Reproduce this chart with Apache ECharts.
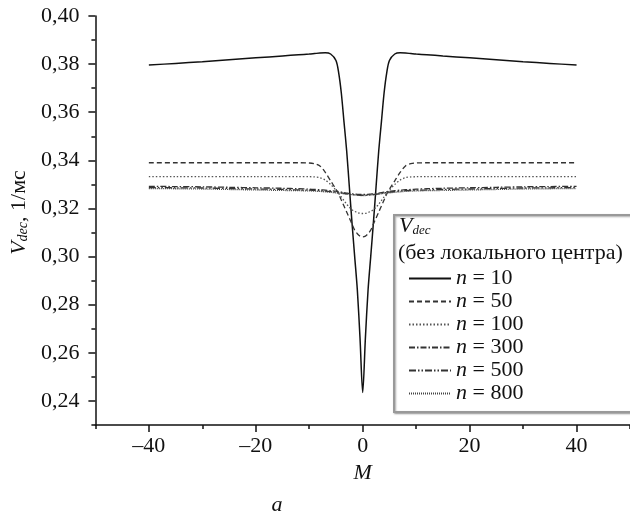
<!DOCTYPE html>
<html><head><meta charset="utf-8">
<script src="https://cdn.jsdelivr.net/npm/echarts@6/dist/echarts.min.js"></script>
<style>html,body{margin:0;padding:0;background:#fff}#c{width:630px;height:526px}</style>
</head><body><div id="c"></div>
<script>
var M = [-40,-35,-30,-25,-20,-15,-12,-10,-9,-8,-7,-6,-5,-4.5,-4,-3.5,-3,-2.5,-2,-1.5,-1,-0.5,0,
         0.5,1,1.5,2,2.5,3,3.5,4,4.5,5,6,7,8,9,10,12,15,20,25,30,35,40];
var n10 = [0.3796,0.3803,0.3810,0.3818,0.3826,0.3834,0.3839,0.3842,0.3844,0.3846,0.3847,0.3842,0.3815,0.3765,0.3680,0.3560,0.3440,0.3290,0.3140,0.3000,0.2860,0.2660,0.2435,
           0.2660,0.2860,0.3000,0.3140,0.3290,0.3440,0.3560,0.3680,0.3765,0.3815,0.3842,0.3847,0.3846,0.3844,0.3842,0.3839,0.3834,0.3826,0.3818,0.3810,0.3803,0.3796];
var n50 = [0.3390,0.3390,0.3390,0.3390,0.3390,0.3390,0.3390,0.3389,0.3386,0.3377,0.3350,0.3315,0.3280,0.3260,0.3235,0.3210,0.3185,0.3160,0.3135,0.3110,0.3095,0.3085,0.3082,
           0.3085,0.3095,0.3110,0.3135,0.3160,0.3185,0.3210,0.3235,0.3260,0.3280,0.3315,0.3350,0.3377,0.3386,0.3389,0.3390,0.3390,0.3390,0.3390,0.3390,0.3390,0.3390];
var n100 = [0.3332,0.3332,0.3332,0.3332,0.3332,0.3332,0.3332,0.3332,0.3331,0.3328,0.3318,0.3300,0.3276,0.3262,0.3248,0.3233,0.3218,0.3205,0.3195,0.3188,0.3183,0.3180,0.3179,
            0.3180,0.3183,0.3188,0.3195,0.3205,0.3218,0.3233,0.3248,0.3262,0.3276,0.3300,0.3318,0.3328,0.3331,0.3332,0.3332,0.3332,0.3332,0.3332,0.3332,0.3332,0.3332];
var n300 = [0.3292,0.3291,0.3290,0.3288,0.3286,0.3284,0.3282,0.3280,0.3279,0.3278,0.3276,0.3274,0.3272,0.3270,0.3268,0.3266,0.3264,0.3262,0.3261,0.3260,0.3259,0.3258,0.3258,
            0.3258,0.3259,0.3260,0.3261,0.3262,0.3264,0.3266,0.3268,0.3270,0.3272,0.3274,0.3276,0.3278,0.3279,0.3280,0.3282,0.3284,0.3286,0.3288,0.3290,0.3291,0.3292];
var n500 = [0.3287,0.3286,0.3285,0.3283,0.3281,0.3279,0.3277,0.3276,0.3275,0.3274,0.3272,0.3270,0.3268,0.3266,0.3265,0.3263,0.3261,0.3259,0.3258,0.3257,0.3256,0.3255,0.3255,
            0.3255,0.3256,0.3257,0.3258,0.3259,0.3261,0.3263,0.3265,0.3266,0.3268,0.3270,0.3272,0.3274,0.3275,0.3276,0.3277,0.3279,0.3281,0.3283,0.3285,0.3286,0.3287];
var n800 = [0.3283,0.3282,0.3281,0.3279,0.3277,0.3275,0.3274,0.3273,0.3272,0.3271,0.3269,0.3267,0.3265,0.3264,0.3263,0.3261,0.3259,0.3258,0.3257,0.3256,0.3255,0.3254,0.3254,
            0.3254,0.3255,0.3256,0.3257,0.3258,0.3259,0.3261,0.3263,0.3264,0.3265,0.3267,0.3269,0.3271,0.3272,0.3273,0.3274,0.3275,0.3277,0.3279,0.3281,0.3282,0.3283];
var seriesNames = ['n = 10','n = 50','n = 100','n = 300','n = 500','n = 800'];
var xMajorTicks = [-40,-20,0,20,40];
var xMinorTicks = [-50,-30,-10,10,30,50];
var yMajorTicks = [0.24,0.26,0.28,0.30,0.32,0.34,0.36,0.38,0.40];
var yMinorTicks = [0.23,0.25,0.27,0.29,0.31,0.33,0.35,0.37,0.39];

var FONT = 'Liberation Serif';
var FS = 22;
function pairs(ys){ return M.map(function(m,i){return [m, ys[i]];}); }
var styles = [
  {color:'#111', type:'solid', width:1.5},
  {color:'#333', type:[5,3], width:1.3},
  {color:'#555', type:[1.5,2], width:1.3},
  {color:'#333', type:[6,2,1.5,2], width:1.3},
  {color:'#333', type:[7,2,1.5,2,1.5,2], width:1.3},
  {color:'#444', type:[1,1], width:1.3}
];
var allData = [n10,n50,n100,n300,n500,n800];
var series = allData.map(function(d,i){
  return {name:seriesNames[i], type:'line', data:pairs(d), showSymbol:false, symbol:'none',
    smooth:0.3, lineStyle:styles[i], itemStyle:{color:styles[i].color}, animation:false, xAxisIndex:0, yAxisIndex:0};
});
var axisLineStyle = {color:'#111', width:1.5};
var chart = echarts.init(document.getElementById('c'), null, {renderer:'canvas'});
chart.setOption({
  animation:false,
  grid:{left:92, top:16, right:0, bottom:101, containLabel:false},
  xAxis:[{
    type:'value', min:-50, max:50,
    axisLine:{show:true, onZero:false, lineStyle:axisLineStyle},
    axisTick:{show:true, length:7, lineStyle:axisLineStyle, customValues:xMajorTicks},
    axisLabel:{customValues:xMajorTicks, margin:10, fontFamily:FONT, fontSize:FS, color:'#111',
      formatter:function(v){return v<0?'\u2013'+Math.abs(v):String(v);}},
    splitLine:{show:false},
    name:'M', nameLocation:'middle', nameGap:35,
    nameTextStyle:{fontFamily:FONT, fontSize:FS, fontStyle:'italic', color:'#111'}
  },{
    type:'value', min:-50, max:50, position:'bottom',
    axisLine:{show:false, onZero:false},
    axisTick:{show:true, length:4, lineStyle:axisLineStyle, customValues:xMinorTicks},
    axisLabel:{show:false}, splitLine:{show:false}
  }],
  yAxis:[{
    type:'value', min:0.23, max:0.40,
    axisLine:{show:true, onZero:false, lineStyle:axisLineStyle},
    axisTick:{show:true, length:7, lineStyle:axisLineStyle, customValues:yMajorTicks},
    axisLabel:{customValues:yMajorTicks, margin:16, fontFamily:FONT, fontSize:FS, color:'#111',
      formatter:function(v){return v.toFixed(2).replace('.',',');}},
    splitLine:{show:false},
    name:'{v|V}{s|dec}{t|, 1/мс}', nameLocation:'middle', nameGap:64, nameRotate:90,
    nameTextStyle:{fontFamily:FONT, fontSize:FS, color:'#111', padding:[0,0,0,16],
      rich:{v:{fontFamily:FONT,fontSize:FS,fontStyle:'italic',color:'#111'},
            s:{fontFamily:FONT,fontSize:14,fontStyle:'italic',color:'#111',verticalAlign:'bottom',padding:[7,0,0,0]},
            t:{fontFamily:FONT,fontSize:FS,color:'#111'}}}
  },{
    type:'value', min:0.23, max:0.40, position:'left',
    axisLine:{show:false, onZero:false},
    axisTick:{show:true, length:4, lineStyle:axisLineStyle, customValues:yMinorTicks},
    axisLabel:{show:false}, splitLine:{show:false}
  }],
  legend:{
    show:true, orient:'vertical', left:408, top:267, itemWidth:42, itemHeight:12, itemGap:0,
    data:seriesNames, selectedMode:false, padding:0,
    itemStyle:{opacity:0},
    formatter:function(name){return '{i|n}' + name.slice(1);},
    textStyle:{fontFamily:FONT, fontSize:FS, color:'#111', lineHeight:23,
      rich:{i:{fontFamily:FONT, fontSize:FS, fontStyle:'italic', color:'#111', lineHeight:23}}}
  },
  graphic:[
    {type:'rect', shape:{x:394, y:215, width:250, height:197}, z:0,
     style:{fill:'#fff', stroke:'#999', lineWidth:2, shadowColor:'rgba(0,0,0,0.35)', shadowBlur:2, shadowOffsetX:1, shadowOffsetY:1}},
    {type:'text', x:399, y:226, z:5,
     style:{text:'{v|V}{s|dec}', verticalAlign:'middle', rich:{v:{fontFamily:FONT,fontSize:FS,fontStyle:'italic',fill:'#111'},
       s:{fontFamily:FONT,fontSize:13,fontStyle:'italic',fill:'#111',verticalAlign:'bottom',padding:[9,0,0,0]}}}},
    {type:'text', x:398, y:253, z:5,
     style:{text:'(без локального центра)', verticalAlign:'middle', fontFamily:FONT, fontSize:FS, fill:'#111'}},
    {type:'text', x:277, y:505, z:5,
     style:{text:'а', align:'center', verticalAlign:'middle', fontFamily:FONT, fontSize:FS, fontStyle:'italic', fill:'#111'}}
  ],
  series:series
});
</script></body></html>
